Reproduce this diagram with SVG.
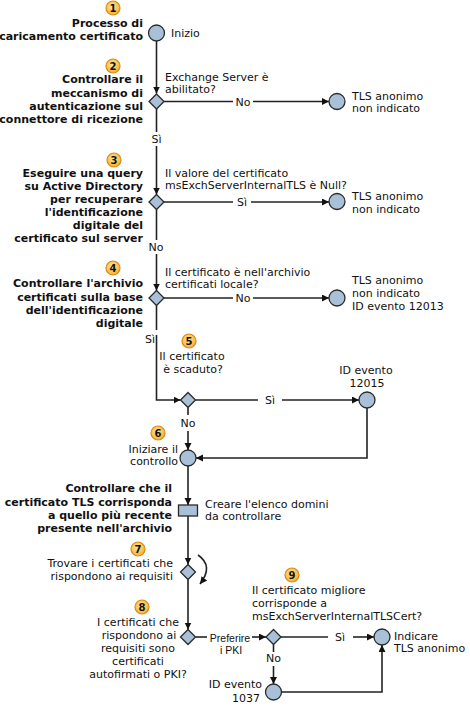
<svg xmlns="http://www.w3.org/2000/svg" width="470" height="706" viewBox="0 0 470 706">
<style>
text{font-family:"DejaVu Sans",Verdana,sans-serif;font-size:11px;fill:#111}
.b{font-weight:bold}
.r{text-anchor:end}
.m{text-anchor:middle}
.n{font-family:"Liberation Sans",Arial,sans-serif;font-size:10.5px}
.node{fill:#A8C0D8;stroke:#2a2a2a;stroke-width:1.3}
.badge circle{fill:url(#bg);stroke:#D98A16;stroke-width:1.2}
.badge text{font-weight:bold;font-size:10px;text-anchor:middle}
.c{fill:none;stroke:#222;stroke-width:1.6}
.ca{fill:none;stroke:#222;stroke-width:1.6;marker-end:url(#ah)}
</style>
<defs>
<radialGradient id="bg" cx="0.45" cy="0.4" r="0.6">
<stop offset="0" stop-color="#FFE7A0"/>
<stop offset="1" stop-color="#F8B02E"/>
</radialGradient>
<marker id="ah" markerUnits="userSpaceOnUse" markerWidth="8" markerHeight="8" refX="7" refY="3.5" orient="auto">
<path d="M0,0 L7,3.5 L0,7 z" fill="#111"/>
</marker>
</defs>
<rect width="470" height="706" fill="#fff"/>

<g id="connectors">
<path class="ca" d="M156.5,41 V93.5"/>
<path class="c" d="M164,101.5 H233"/>
<path class="ca" d="M253,101.5 H329"/>
<path class="c" d="M156.5,109 V132"/>
<path class="ca" d="M156.5,146 V194.5"/>
<path class="c" d="M164,202 H233"/>
<path class="ca" d="M251,202 H329"/>
<path class="c" d="M156.5,209.5 V240"/>
<path class="ca" d="M156.5,254 V290.5"/>
<path class="c" d="M164,298 H233"/>
<path class="ca" d="M253,298 H329"/>
<path class="c" d="M156.5,305.5 V330"/>
<path class="ca" d="M156.5,335 V400 H180.5"/>
<path class="c" d="M195.5,400 H258"/>
<path class="ca" d="M282,400 H359"/>
<path class="c" d="M188,407.5 V415"/>
<path class="ca" d="M188,431 V450"/>
<path class="ca" d="M367,408 V458 H196"/>
<path class="ca" d="M188,466 V505"/>
<path class="ca" d="M188,516 V564.5"/>
<path class="ca" d="M188,579.5 V629.5"/>
<path class="c" d="M195.5,637 H207"/>
<path class="ca" d="M252,637 H266"/>
<path class="c" d="M281,637 H328"/>
<path class="ca" d="M353,637 H374"/>
<path class="c" d="M273.5,644.5 V652"/>
<path class="ca" d="M273.5,666 V684"/>
<path class="ca" d="M281.5,692 H382 V645"/>
<path class="ca" d="M198,555 Q214,566 200,584"/>
<text x="243" y="105.5" class="m">No</text>
<text x="156.5" y="143" class="m">Sì</text>
<text x="242" y="206" class="m">Sì</text>
<text x="156" y="251" class="m">No</text>
<text x="243" y="302" class="m">No</text>
<text x="155" y="343" class="r">Sì</text>
<text x="270" y="404" class="m">Sì</text>
<text x="188" y="427" class="m">No</text>
<text x="230" y="642" class="m n">Preferire</text>
<text x="231" y="654" class="m n">i PKI</text>
<text x="340" y="641" class="m">Sì</text>
<text x="273.5" y="662" class="m">No</text>
</g>

<g id="step1">
<g class="badge"><circle cx="113" cy="8" r="7"/><text x="113" y="11.5">1</text></g>
<text x="143" y="27" class="b r">Processo di</text>
<text x="143" y="40" class="b r">caricamento certificato</text>
<circle class="node" cx="156.5" cy="33" r="8"/>
<text x="171" y="37">Inizio</text>
</g>

<g id="step2">
<g class="badge"><circle cx="113" cy="66" r="7"/><text x="113" y="69.5">2</text></g>
<text x="143" y="83" class="b r">Controllare il</text>
<text x="143" y="96.5" class="b r">meccanismo di</text>
<text x="143" y="110" class="b r">autenticazione sul</text>
<text x="143" y="123" class="b r">connettore di ricezione</text>
<polygon class="node" points="156.5,94 164,101.5 156.5,109 149,101.5"/>
<text x="165" y="81">Exchange Server è</text>
<text x="165" y="93">abilitato?</text>
</g>

<g id="end1">
<circle class="node" cx="337" cy="101.5" r="8"/>
<text x="352" y="100">TLS anonimo</text>
<text x="352" y="112">non indicato</text>
</g>

<g id="step3">
<g class="badge"><circle cx="114" cy="160" r="7"/><text x="114" y="163.5">3</text></g>
<text x="143" y="177" class="b r">Eseguire una query</text>
<text x="143" y="190" class="b r">su Active Directory</text>
<text x="143" y="203" class="b r">per recuperare</text>
<text x="143" y="216" class="b r">l'identificazione</text>
<text x="143" y="229" class="b r">digitale del</text>
<text x="143" y="242" class="b r">certificato sul server</text>
<polygon class="node" points="156.5,194.5 164,202 156.5,209.5 149,202"/>
<text x="165" y="177">Il valore del certificato</text>
<text x="165" y="189">msExchServerInternalTLS è Null?</text>
</g>

<g id="end2">
<circle class="node" cx="337" cy="201.5" r="8"/>
<text x="352" y="200">TLS anonimo</text>
<text x="352" y="213">non indicato</text>
</g>

<g id="step4">
<g class="badge"><circle cx="113" cy="268" r="7"/><text x="113" y="271.5">4</text></g>
<text x="143" y="287" class="b r">Controllare l'archivio</text>
<text x="143" y="300.5" class="b r">certificati sulla base</text>
<text x="143" y="314" class="b r">dell'identificazione</text>
<text x="143" y="327" class="b r">digitale</text>
<polygon class="node" points="156.5,290.5 164,298 156.5,305.5 149,298"/>
<text x="165" y="276">Il certificato è nell'archivio</text>
<text x="165" y="288">certificati locale?</text>
</g>

<g id="end3">
<circle class="node" cx="337" cy="298" r="8"/>
<text x="352" y="284">TLS anonimo</text>
<text x="352" y="297">non indicato</text>
<text x="352" y="310">ID evento 12013</text>
</g>

<g id="step5">
<g class="badge"><circle cx="189" cy="341" r="7"/><text x="189" y="344.5">5</text></g>
<text x="192" y="360" class="m">Il certificato</text>
<text x="193" y="373" class="m">è scaduto?</text>
<polygon class="node" points="188,392.5 195.5,400 188,407.5 180.5,400"/>
</g>

<g id="end4">
<text x="366" y="374" class="m">ID evento</text>
<text x="367" y="387" class="m">12015</text>
<circle class="node" cx="367" cy="400" r="8"/>
</g>

<g id="step6">
<g class="badge"><circle cx="158" cy="433" r="7"/><text x="158" y="436.5">6</text></g>
<text x="178" y="453" class="r">Iniziare il</text>
<text x="178" y="465" class="r">controllo</text>
<circle class="node" cx="188" cy="458" r="8"/>
</g>

<g id="check">
<text x="172" y="492" class="b r">Controllare che il</text>
<text x="172" y="505.5" class="b r">certificato TLS corrisponda</text>
<text x="172" y="519" class="b r">a quello più recente</text>
<text x="172" y="532" class="b r">presente nell'archivio</text>
<rect class="node" x="178.5" y="505" width="19" height="11"/>
<text x="205" y="508">Creare l'elenco domini</text>
<text x="205" y="520">da controllare</text>
</g>

<g id="step7">
<g class="badge"><circle cx="138" cy="549" r="7"/><text x="138" y="552.5">7</text></g>
<text x="173" y="567" class="r">Trovare i certificati che</text>
<text x="173" y="580" class="r">rispondono ai requisiti</text>
<polygon class="node" points="188,564.5 195.5,572 188,579.5 180.5,572"/>
</g>

<g id="step8">
<g class="badge"><circle cx="142" cy="607" r="7"/><text x="142" y="610.5">8</text></g>
<text x="138" y="626" class="m">I certificati che</text>
<text x="139" y="639" class="m">rispondono ai</text>
<text x="138" y="652" class="m">requisiti sono</text>
<text x="138" y="665" class="m">certificati</text>
<text x="138" y="678" class="m">autofirmati o PKI?</text>
<polygon class="node" points="188,629.5 195.5,637 188,644.5 180.5,637"/>
</g>

<g id="step9">
<g class="badge"><circle cx="292" cy="575" r="7"/><text x="292" y="578.5">9</text></g>
<text x="252" y="594">Il certificato migliore</text>
<text x="252" y="607">corrisponde a</text>
<text x="252" y="620">msExchServerInternalTLSCert?</text>
<polygon class="node" points="273.5,629.5 281,637 273.5,644.5 266,637"/>
</g>

<g id="endfinal">
<circle class="node" cx="382" cy="637" r="8"/>
<text x="394" y="640">Indicare</text>
<text x="394" y="652">TLS anonimo</text>
</g>

<g id="end1037">
<text x="262" y="688" class="r">ID evento</text>
<text x="260" y="702" class="r">1037</text>
<circle class="node" cx="273.5" cy="692" r="8"/>
</g>
</svg>
